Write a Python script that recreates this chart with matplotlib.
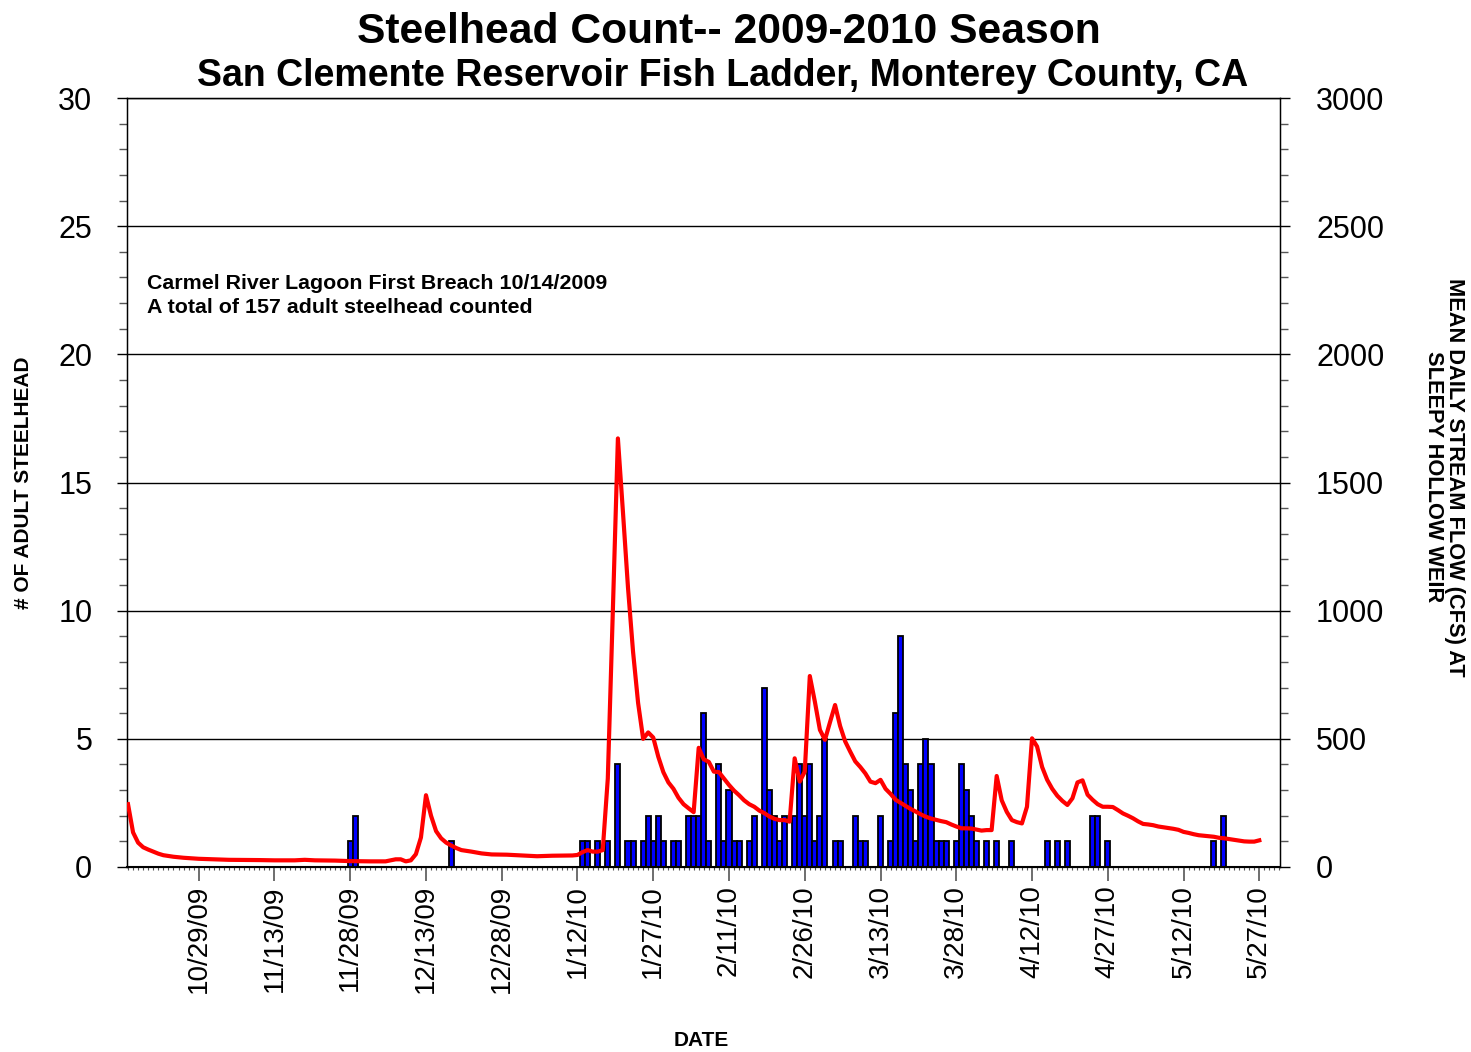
import numpy as np
import pandas as pd
import matplotlib
matplotlib.use("Agg")
import matplotlib.pyplot as plt
import matplotlib.dates as mdates
from matplotlib.ticker import MultipleLocator

plt.rcParams['font.family'] = ['Liberation Sans', 'DejaVu Sans']

# daily adult steelhead counts (left axis)
count_dates = ['2009-11-28', '2009-11-29', '2009-12-18',
               '2010-01-13', '2010-01-14', '2010-01-16', '2010-01-18', '2010-01-20',
               '2010-01-22', '2010-01-23', '2010-01-25', '2010-01-26', '2010-01-27',
               '2010-01-28', '2010-01-29', '2010-01-31', '2010-02-01',
               '2010-02-03', '2010-02-04', '2010-02-05', '2010-02-06', '2010-02-07',
               '2010-02-09', '2010-02-10', '2010-02-11', '2010-02-12', '2010-02-13',
               '2010-02-15', '2010-02-16',
               '2010-02-18', '2010-02-19', '2010-02-20', '2010-02-21', '2010-02-22',
               '2010-02-24', '2010-02-25', '2010-02-26', '2010-02-27', '2010-02-28',
               '2010-03-01', '2010-03-02', '2010-03-04', '2010-03-05',
               '2010-03-08', '2010-03-09', '2010-03-10', '2010-03-13',
               '2010-03-15', '2010-03-16', '2010-03-17', '2010-03-18', '2010-03-19',
               '2010-03-20', '2010-03-21', '2010-03-22', '2010-03-23', '2010-03-24',
               '2010-03-25', '2010-03-26',
               '2010-03-28', '2010-03-29', '2010-03-30', '2010-03-31', '2010-04-01',
               '2010-04-03', '2010-04-05', '2010-04-08',
               '2010-04-15', '2010-04-17', '2010-04-19',
               '2010-04-24', '2010-04-25', '2010-04-27',
               '2010-05-18', '2010-05-20']
counts = [1, 2, 1,
          1, 1, 1, 1, 4,
          1, 1, 1, 2, 1,
          2, 1, 1, 1,
          2, 2, 2, 6, 1,
          4, 1, 3, 1, 1,
          1, 2,
          7, 3, 2, 1, 2,
          2, 4, 2, 4, 1,
          2, 5, 1, 1,
          2, 1, 1, 2,
          1, 6, 9, 4, 3,
          1, 4, 5, 4, 1,
          1, 1,
          1, 4, 3, 2, 1,
          1, 1, 1,
          1, 1, 1,
          2, 2, 1,
          1, 2]

# mean daily stream flow, cfs (right axis)
flow_dates = ['2009-10-15', '2009-10-16', '2009-10-17', '2009-10-18', '2009-10-19',
              '2009-10-20', '2009-10-21', '2009-10-22', '2009-10-24', '2009-10-26',
              '2009-10-29', '2009-11-04', '2009-11-10', '2009-11-13', '2009-11-17',
              '2009-11-19', '2009-11-21', '2009-11-25', '2009-11-28', '2009-12-02',
              '2009-12-05', '2009-12-06', '2009-12-07', '2009-12-08', '2009-12-09',
              '2009-12-10', '2009-12-11', '2009-12-12', '2009-12-13', '2009-12-14',
              '2009-12-15', '2009-12-16', '2009-12-17', '2009-12-18', '2009-12-19',
              '2009-12-20', '2009-12-21', '2009-12-22', '2009-12-24', '2009-12-26',
              '2009-12-29', '2010-01-01', '2010-01-04', '2010-01-07', '2010-01-10',
              '2010-01-11', '2010-01-12', '2010-01-13', '2010-01-14', '2010-01-15',
              '2010-01-16', '2010-01-17', '2010-01-18', '2010-01-19', '2010-01-20',
              '2010-01-21', '2010-01-22', '2010-01-23', '2010-01-24', '2010-01-25',
              '2010-01-26', '2010-01-27', '2010-01-28', '2010-01-29', '2010-01-30',
              '2010-01-31', '2010-02-01', '2010-02-02', '2010-02-03', '2010-02-04',
              '2010-02-05', '2010-02-06', '2010-02-07', '2010-02-08', '2010-02-09',
              '2010-02-10', '2010-02-11', '2010-02-12', '2010-02-13', '2010-02-14',
              '2010-02-15', '2010-02-16', '2010-02-17', '2010-02-18', '2010-02-19',
              '2010-02-20', '2010-02-21', '2010-02-22', '2010-02-23', '2010-02-24',
              '2010-02-25', '2010-02-26', '2010-02-27', '2010-02-28', '2010-03-01',
              '2010-03-02', '2010-03-03', '2010-03-04', '2010-03-05', '2010-03-06',
              '2010-03-07', '2010-03-08', '2010-03-09', '2010-03-10', '2010-03-11',
              '2010-03-12', '2010-03-13', '2010-03-14', '2010-03-15', '2010-03-16',
              '2010-03-17', '2010-03-18', '2010-03-19', '2010-03-20', '2010-03-21',
              '2010-03-22', '2010-03-23', '2010-03-24', '2010-03-25', '2010-03-26',
              '2010-03-27', '2010-03-28', '2010-03-29', '2010-03-30', '2010-03-31',
              '2010-04-01', '2010-04-02', '2010-04-03', '2010-04-04', '2010-04-05',
              '2010-04-06', '2010-04-07', '2010-04-08', '2010-04-09', '2010-04-10',
              '2010-04-11', '2010-04-12', '2010-04-13', '2010-04-14', '2010-04-15',
              '2010-04-16', '2010-04-17', '2010-04-18', '2010-04-19', '2010-04-20',
              '2010-04-21', '2010-04-22', '2010-04-23', '2010-04-24', '2010-04-25',
              '2010-04-26', '2010-04-27', '2010-04-28', '2010-04-29', '2010-04-30',
              '2010-05-01', '2010-05-02', '2010-05-03', '2010-05-04', '2010-05-05',
              '2010-05-06', '2010-05-07', '2010-05-08', '2010-05-09', '2010-05-10',
              '2010-05-11', '2010-05-12', '2010-05-13', '2010-05-14', '2010-05-15',
              '2010-05-16', '2010-05-17', '2010-05-18', '2010-05-19', '2010-05-20',
              '2010-05-21', '2010-05-22', '2010-05-23', '2010-05-24', '2010-05-25',
              '2010-05-26', '2010-05-27']
flow_cfs = [245, 135, 95, 77, 68,
            60, 52, 46, 40, 36,
            32, 28, 27, 26, 26,
            28, 26, 25, 23, 22,
            22, 26, 30, 30, 22,
            26, 50, 115, 280, 200,
            140, 112, 95, 84, 74,
            66, 63, 60, 53, 49,
            48, 45, 42, 44, 45,
            45, 47, 58, 66, 60,
            60, 66, 345, 1000, 1672,
            1385, 1090, 840, 640, 500,
            525, 505, 430, 370, 330,
            305, 270, 245, 229, 214,
            465, 420, 410, 372, 370,
            345, 320, 298, 280, 260,
            245, 235, 220, 210, 197,
            188, 183, 183, 177, 424,
            333, 372, 745, 645, 535,
            496, 565, 632, 550, 490,
            450, 412, 390, 365, 333,
            327, 340, 305, 285, 262,
            250, 238, 226, 216, 205,
            196, 189, 184, 179, 175,
            166, 158, 151, 151, 150,
            146, 142, 144, 144, 355,
            260, 215, 183, 175, 170,
            235, 502, 470, 390, 340,
            305, 278, 258, 242, 268,
            330, 338, 282, 262, 245,
            235, 235, 234, 222, 209,
            200, 190, 178, 168, 166,
            163, 158, 155, 152, 149,
            145, 137, 133, 128, 124,
            122, 120, 118, 114, 112,
            109, 106, 103, 100, 99,
            99, 104]

tick_labels = ['10/29/09', '11/13/09', '11/28/09', '12/13/09', '12/28/09',
               '1/12/10', '1/27/10', '2/11/10', '2/26/10', '3/13/10',
               '3/28/10', '4/12/10', '4/27/10', '5/12/10', '5/27/10']

cd = mdates.date2num(pd.to_datetime(count_dates))
fd = mdates.date2num(pd.to_datetime(flow_dates))
td = mdates.date2num(pd.to_datetime(tick_labels, format='%m/%d/%y'))

W, H = 1471, 1052
fig = plt.figure(figsize=(W / 100, H / 100), dpi=100)
ax = fig.add_axes([127 / W, 1 - 867 / H, (1280 - 127) / W, (867 - 98) / H])

# bars - fish counts
ax.bar(cd, counts, width=1.0, color='#0000FF', edgecolor='black', linewidth=1.3,
       align='center', zorder=2)
ax.set_ylim(0, 30)
ax.set_xlim(mdates.date2num(pd.Timestamp('2009-10-14')) + 0.8,
            mdates.date2num(pd.Timestamp('2010-05-31')) + 0.1)
ax.yaxis.set_major_locator(MultipleLocator(5))
ax.yaxis.set_minor_locator(MultipleLocator(1))
ax.yaxis.grid(True, which='major', color='black', linewidth=1.0)
ax.set_axisbelow(True)

ax.set_xticks(td)
ax.set_xticklabels(tick_labels, rotation=90, fontsize=20, va='top', ha='center')
ax.xaxis.set_minor_locator(mdates.DayLocator())
ax.tick_params(axis='x', which='major', direction='out', length=10, width=1.2,
               color='#555555', pad=3)
ax.tick_params(axis='x', which='minor', direction='out', length=2.5, width=0.8,
               color='#555555')
ax.tick_params(axis='y', which='major', direction='out', length=7, width=1,
               labelsize=22, pad=18)
ax.tick_params(axis='y', which='minor', direction='out', length=6, width=1,
               color='#555555')
for s in ax.spines.values():
    s.set_color('black')
    s.set_linewidth(1.0)
ax.spines['bottom'].set_linewidth(1.5)

# flow line on second axis
ax2 = ax.twinx()
ax2.plot(fd, flow_cfs, color='#FF0000', linewidth=3, solid_joinstyle='round', zorder=3)
ax2.set_ylim(0, 3000)
ax2.yaxis.set_major_locator(MultipleLocator(500))
ax2.yaxis.set_minor_locator(MultipleLocator(100))
ax2.tick_params(axis='y', which='major', direction='out', length=7, width=1,
                labelsize=22, pad=19)
ax2.tick_params(axis='y', which='minor', direction='out', length=6, width=1,
                color='#555555')

# titles and labels
fig.text(729 / W, 1 - 32 / H, 'Steelhead Count-- 2009-2010 Season', fontsize=30.7,
         fontweight='bold', ha='center', va='center')
fig.text(723 / W, 1 - 76 / H, 'San Clemente Reservoir Fish Ladder, Monterey County, CA',
         fontsize=27, fontweight='bold', ha='center', va='center')
fig.text(24 / W, 1 - 483 / H, '# OF ADULT STEELHEAD', fontsize=15, fontweight='bold',
         rotation=90, ha='center', va='center')
fig.text(1444 / W, 1 - 477 / H, 'MEAN DAILY STREAM FLOW (CFS) AT\nSLEEPY HOLLOW WEIR',
         fontsize=15.7, fontweight='bold', rotation=270, ha='center', va='center',
         multialignment='center', linespacing=1.0)
fig.text(701 / W, 1 - 1040 / H, 'DATE', fontsize=15, fontweight='bold',
         ha='center', va='center')
fig.text(147 / W, 1 - 274 / H,
         'Carmel River Lagoon First Breach 10/14/2009\nA total of 157 adult steelhead counted',
         fontsize=15.4, fontweight='bold', ha='left', va='top', linespacing=1.32)

fig.savefig('out.png', dpi=100)
